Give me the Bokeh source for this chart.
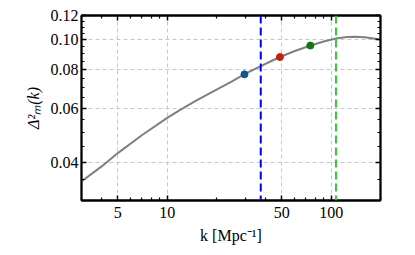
from bokeh.plotting import figure
from bokeh.models import LogAxis, FixedTicker, Span, CustomJSTickFormatter, ColumnDataSource
from bokeh.embed import file_html
from bokeh.resources import INLINE

# data
k_vals = [3, 4, 5, 7, 10, 12, 15, 20, 25, 30, 37, 43.5, 50, 60, 75, 90, 107, 125,
          140, 160, 200]
delta2 = [0.0346, 0.0388, 0.0428, 0.0489, 0.0557, 0.0592, 0.0634, 0.0689, 0.0734,
          0.0776, 0.0820, 0.0855, 0.0884, 0.0920, 0.0958, 0.0988, 0.1010, 0.1021,
          0.1024, 0.1020, 0.1002]
pt_k = [29.6, 48.7, 74.6]
pt_d = [0.0772, 0.0879, 0.0958]
pt_colors = ["#0b5a8c", "#c0200f", "#0b7a12"]
vline_k = [37.2, 107.0]
vline_colors = ["#0000ee", "#2ecc2e"]

x_major = [5, 10, 50, 100]
x_labels = ["5", "10", "50", "100"]
x_minor = [3, 4, 6, 7, 8, 9, 20, 30, 40, 60, 70, 80, 90, 200]
y_major = [0.04, 0.06, 0.08, 0.10, 0.12]
y_labels = ["0.04", "0.06", "0.08", "0.10", "0.12"]
y_minor = [0.03, 0.035, 0.045, 0.05, 0.055, 0.065, 0.07, 0.075, 0.085, 0.09,
           0.095, 0.105, 0.11, 0.115]

FONT = "'Liberation Serif', serif"
FS = "16px"

p = figure(frame_width=299, frame_height=185, x_axis_type="log", y_axis_type="log",
           x_range=(3, 200), y_range=(0.03, 0.12),
           output_backend="svg", toolbar_location=None,
           min_border_left=81, min_border_top=15, min_border_right=10, min_border_bottom=4)

p.line(k_vals, delta2, line_color="#808080", line_width=2)
for kv, c in zip(vline_k, vline_colors):
    p.add_layout(Span(location=kv, dimension="height", line_color=c, line_width=2,
                      line_dash="8 4"))
src = ColumnDataSource(dict(k=pt_k, d=pt_d, c=pt_colors))
p.scatter("k", "d", source=src, size=7, fill_color="c", line_color="c")

xt = FixedTicker(ticks=x_major, minor_ticks=x_minor)
yt = FixedTicker(ticks=y_major, minor_ticks=y_minor)

def style(ax):
    ax.axis_line_width = 1.8
    ax.axis_line_color = "black"
    ax.major_tick_in = 5
    ax.major_tick_out = 0
    ax.minor_tick_in = 3
    ax.minor_tick_out = 0
    ax.major_tick_line_width = 1.5
    ax.minor_tick_line_width = 1.2
    ax.major_tick_line_color = "black"
    ax.minor_tick_line_color = "black"
    ax.major_label_text_font = FONT
    ax.major_label_text_font_size = FS
    ax.major_label_text_color = "black"
    ax.axis_label_text_font = FONT
    ax.axis_label_text_font_size = FS
    ax.axis_label_text_font_style = "normal"
    ax.axis_label_text_color = "black"

xa = p.xaxis[0]
xa.ticker = xt
xa.major_label_overrides = dict(zip(x_major, x_labels))
style(xa)
xa.major_label_standoff = 6
xa.axis_label = "k [Mpc\u207b\u00b9]"
xa.axis_label_standoff = 6

ya = p.yaxis[0]
ya.ticker = yt
ya.major_label_overrides = dict(zip(y_major, y_labels))
style(ya)
ya.major_label_standoff = 3
ya.axis_label = "\u0394\u00b2\u2098(k)"
ya.axis_label_text_font_style = "italic"
ya.axis_label_standoff = 6

empty = CustomJSTickFormatter(code="return ''")
top = LogAxis(ticker=xt, formatter=empty)
style(top)
top.major_label_text_font_size = "1px"
top.major_label_standoff = 0
right = LogAxis(ticker=yt, formatter=empty)
style(right)
right.major_label_text_font_size = "1px"
right.major_label_standoff = 0
p.add_layout(top, "above")
p.add_layout(right, "right")

p.xgrid.grid_line_color = "#c8c8c8"
p.xgrid.grid_line_dash = "4 3"
p.ygrid.grid_line_color = "#c8c8c8"
p.ygrid.grid_line_dash = "4 3"
p.outline_line_color = "black"
p.outline_line_width = 1.8
p.background_fill_color = "white"
p.border_fill_color = "white"

open("out.html", "w").write(file_html(p, INLINE))
